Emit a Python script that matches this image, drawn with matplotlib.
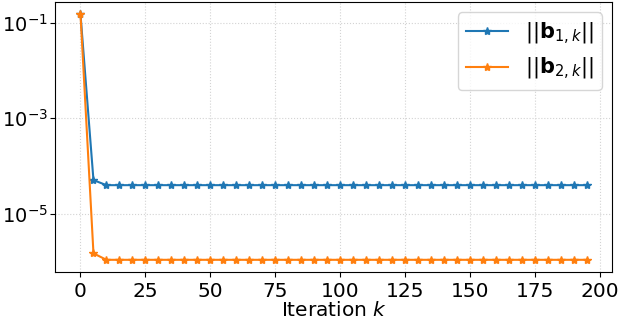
import numpy as np
import matplotlib.pyplot as plt

plt.rcParams['font.size'] = 14.5

iterations = np.arange(0, 200, 5)
b1_first = [0.15, 5.1e-5]
b1_rest = 4.0e-5
b2_first = [0.15, 1.5e-6]
b2_rest = 1.1e-6

b1 = b1_first + [b1_rest] * (len(iterations) - len(b1_first))
b2 = b2_first + [b2_rest] * (len(iterations) - len(b2_first))

fig, ax = plt.subplots(figsize=(6.2, 3.22), dpi=100)
ax.semilogy(iterations, b1, marker='*', label=r'$||\mathbf{b}_{1,k}||$')
ax.semilogy(iterations, b2, marker='*', label=r'$||\mathbf{b}_{2,k}||$')
ax.set_xlabel(r'Iteration $k$', labelpad=0)
ax.set_yticks([1e-1, 1e-3, 1e-5])
ax.minorticks_off()
ax.tick_params(axis='y', labelsize=14, pad=2)
ax.grid(True, linestyle=':', color='lightgray')
ax.legend(loc='upper right', fontsize=15)
fig.subplots_adjust(left=0.089, right=0.987, top=0.994, bottom=0.155)
fig.savefig('out.png')
